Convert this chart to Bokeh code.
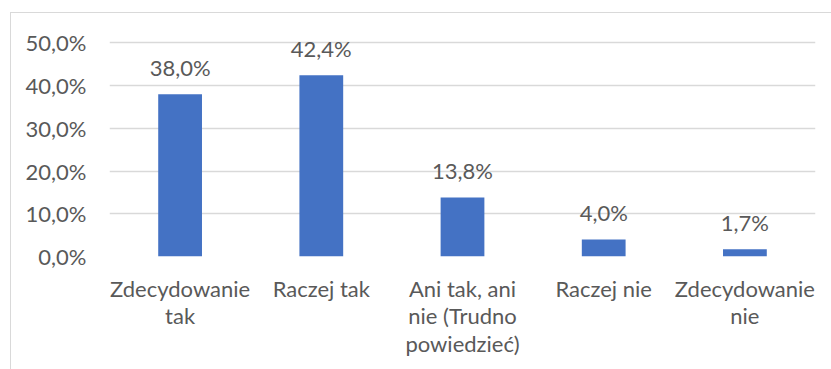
from bokeh.plotting import figure
from bokeh.models import Range1d, FactorRange, FixedTicker, ColumnDataSource
from bokeh.embed import file_html
from bokeh.resources import INLINE
from bokeh.core.properties import value

# Survey answers and their shares (%)
categories = [
    "Zdecydowanie\ntak",
    "Raczej tak",
    "Ani tak, ani\nnie (Trudno\npowiedzieć)",
    "Raczej nie",
    "Zdecydowanie\nnie",
]
shares = [38.0, 42.4, 13.8, 4.0, 1.7]
y_ticks = [0, 10, 20, 30, 40, 50]
y_tick_labels = ["0,0%", "10,0%", "20,0%", "30,0%", "40,0%", "50,0%"]

FONT = "Lato"
FONT_SIZE = "22px"
TEXT_COLOR = "#595959"
GRID_COLOR = "#D9D9D9"
BAR_COLOR = "#4472C4"

source = ColumnDataSource(data=dict(
    cat=categories,
    share=shares,
    label=[f"{v:.1f}%".replace(".", ",") for v in shares],
))

p = figure(
    x_range=FactorRange(*categories, range_padding=0),
    y_range=Range1d(0, 55),
    frame_width=706, frame_height=235,
    min_border_left=98, min_border_right=16,
    min_border_top=8, min_border_bottom=113,
    output_backend="svg", toolbar_location=None,
    margin=(12, 0, 0, 10),
)
p.styles = {"border-left": f"1px solid {GRID_COLOR}", "border-top": f"1px solid {GRID_COLOR}"}
p.outline_line_color = None
p.background_fill_color = "white"
p.border_fill_color = "white"

p.vbar(x="cat", top="share", width=0.31, source=source,
       fill_color=BAR_COLOR, line_color=None)

p.text(x="cat", y="share", text="label", source=source,
       text_font=value(FONT), text_font_size=FONT_SIZE, text_color=TEXT_COLOR,
       text_align="center", text_baseline="alphabetic", y_offset=-27)

# Y axis: percent ticks with horizontal grid
p.yaxis.ticker = FixedTicker(ticks=y_ticks)
p.yaxis.major_label_overrides = {t: s for t, s in zip(y_ticks, y_tick_labels)}
p.yaxis.axis_line_color = None
p.yaxis.major_tick_line_color = None
p.yaxis.minor_tick_line_color = None
p.yaxis.major_label_text_font = FONT
p.yaxis.major_label_text_font_size = FONT_SIZE
p.yaxis.major_label_text_color = TEXT_COLOR
p.yaxis.major_label_standoff = 17

p.ygrid.ticker = FixedTicker(ticks=y_ticks)
p.ygrid.grid_line_color = GRID_COLOR
p.ygrid.grid_line_width = 1.5
p.xgrid.grid_line_color = None

# X axis: category names, wrapped over several lines
p.xaxis.axis_line_color = None
p.xaxis.major_tick_line_color = None
p.xaxis.minor_tick_line_color = None
p.xaxis.major_label_text_font = FONT
p.xaxis.major_label_text_font_size = FONT_SIZE
p.xaxis.major_label_text_color = TEXT_COLOR
p.xaxis.major_label_text_line_height = 1.03
p.xaxis.major_label_standoff = 12

open("out.html", "w").write(file_html(p, INLINE))
